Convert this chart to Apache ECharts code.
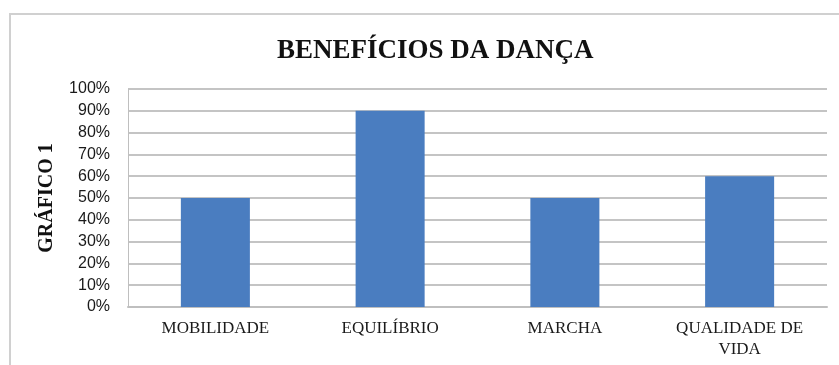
<!DOCTYPE html>
<html>
<head>
<meta charset="utf-8">
<script src="https://cdn.jsdelivr.net/npm/echarts@6/dist/echarts.min.js"></script>
<style>
  html, body { margin: 0; padding: 0; background: #ffffff; }
  #chart { width: 839px; height: 365px; }
</style>
</head>
<body>
<div id="chart"></div>
<script>
const titleText = "BENEFÍCIOS DA DANÇA";
const yAxisName = "GRÁFICO 1";
const categories = ["MOBILIDADE", "EQUILÍBRIO", "MARCHA", "QUALIDADE DE\nVIDA"];
const values = [50, 90, 50, 60];
const yMin = 0, yMax = 100, yStep = 10;

const chart = echarts.init(document.getElementById('chart'));
chart.setOption({
  backgroundColor: '#ffffff',
  animation: false,
  graphic: [{
    type: 'rect',
    shape: { x: 10, y: 14, width: 900, height: 400 },
    style: { fill: 'none', stroke: '#d0d0d0', lineWidth: 2 },
    silent: true
  }],
  title: {
    text: titleText,
    left: 272,
    top: 33,
    textStyle: {
      fontFamily: 'Liberation Serif',
      fontWeight: 'bold',
      fontSize: 27,
      color: '#111111'
    }
  },
  grid: { left: 128, right: 12, top: 89, bottom: 58 },
  xAxis: {
    type: 'category',
    data: categories,
    axisLine: { show: true, lineStyle: { color: '#bfbfbf', width: 2 } },
    axisTick: { show: false },
    axisLabel: {
      margin: 11,
      interval: 0,
      fontFamily: 'Liberation Serif',
      fontSize: 17,
      lineHeight: 21,
      color: '#1a1a1a'
    }
  },
  yAxis: {
    type: 'value',
    min: yMin,
    max: yMax,
    interval: yStep,
    name: yAxisName,
    nameLocation: 'middle',
    nameRotate: 90,
    nameGap: 71,
    nameTextStyle: {
      fontFamily: 'Liberation Serif',
      fontWeight: 'bold',
      fontSize: 20,
      color: '#111111'
    },
    axisLine: { show: true, lineStyle: { color: '#bfbfbf', width: 1 } },
    axisTick: { show: false },
    axisLabel: {
      margin: 18,
      fontFamily: 'Liberation Sans',
      fontSize: 16,
      color: '#1a1a1a',
      formatter: v => v + '%'
    },
    splitLine: { show: true, lineStyle: { color: '#c4c4c4', width: 2 } }
  },
  series: [{
    type: 'bar',
    data: values,
    barWidth: '39.5%',
    itemStyle: { color: '#4a7dc0' }
  }]
});
</script>
</body>
</html>
